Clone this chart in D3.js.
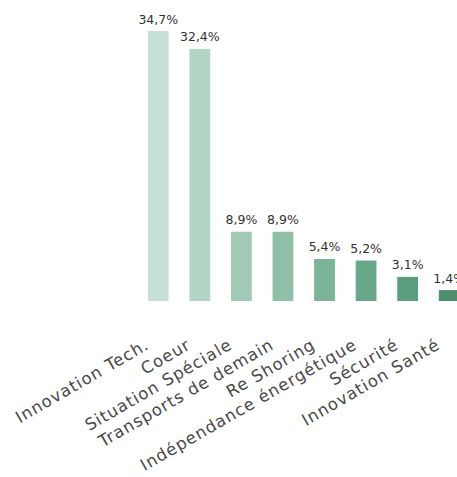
<!DOCTYPE html>
<html>
<head>
<meta charset="utf-8">
<script src="https://cdn.jsdelivr.net/npm/d3@7"></script>
<style>
html,body{margin:0;padding:0;background:#fff;overflow:hidden;}
svg{display:block;}
</style>
</head>
<body>
<svg id="chart" width="457" height="477"></svg>
<script>
const categories = ["Innovation Tech.", "Coeur", "Situation Spéciale", "Transports de demain", "Re Shoring", "Indépendance énergétique", "Sécurité", "Innovation Santé"];
const values = [34.7, 32.4, 8.9, 8.9, 5.4, 5.2, 3.1, 1.4];
const valueLabels = ["34,7%", "32,4%", "8,9%", "8,9%", "5,4%", "5,2%", "3,1%", "1,4%"];
const colors = ["#c6e0d8", "#b3d5c5", "#a1cab6", "#8fbfa7", "#7cb498", "#67a889", "#5a9e7e", "#4e8c6e"];

const svg = d3.select("#chart");
const x = d3.scaleBand().domain(categories).range([137.5, 470]).paddingInner(0.5).paddingOuter(0.25);
const y = d3.scaleLinear().domain([0, d3.max(values)]).range([301, 31]);

const data = categories.map((c, i) => ({c, v: values[i], l: valueLabels[i], col: colors[i]}));

svg.selectAll("rect.bar").data(data).join("rect")
  .attr("class", "bar")
  .attr("x", d => x(d.c))
  .attr("y", d => y(d.v))
  .attr("width", x.bandwidth())
  .attr("height", d => y(0) - y(d.v))
  .attr("fill", d => d.col);

svg.selectAll("text.val").data(data).join("text")
  .attr("class", "val")
  .attr("x", d => x(d.c) + x.bandwidth() / 2)
  .attr("y", d => y(d.v) - 7.5)
  .attr("text-anchor", "middle")
  .attr("font-family", "DejaVu Sans, sans-serif")
  .attr("font-size", "12.5px")
  .attr("fill", "#333")
  .text(d => d.l);

const axis = d3.axisBottom(x).tickSize(0).tickPadding(0);
const g = svg.append("g").attr("transform", `translate(0,${y(0)})`).call(axis);
g.select(".domain").remove();
g.selectAll("text")
  .attr("font-family", "DejaVu Sans, sans-serif")
  .attr("font-size", "16.5px")
  .attr("letter-spacing", "1px")
  .attr("fill", "#484848")
  .attr("text-anchor", "end")
  .attr("dy", "0")
  .attr("y", 0)
  .attr("transform", "translate(-8,47) rotate(-30)");
</script>
</body>
</html>
